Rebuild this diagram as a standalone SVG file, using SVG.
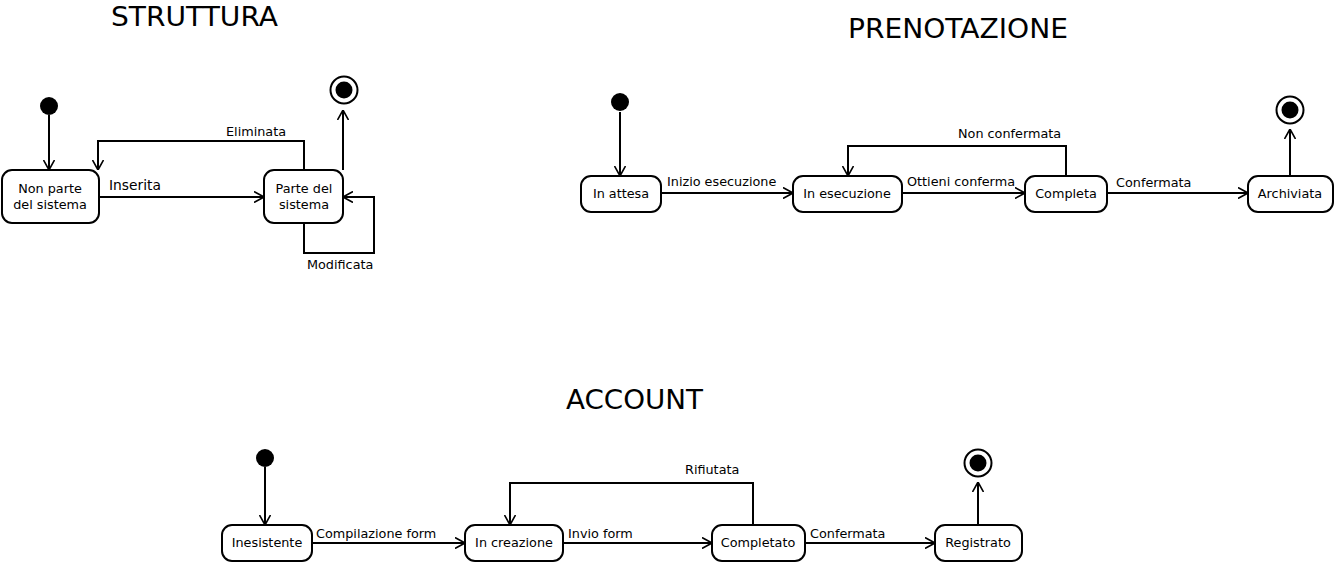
<svg xmlns="http://www.w3.org/2000/svg" width="1335" height="563" viewBox="0 0 1335 563">
<style>
.t{font-family:"DejaVu Sans","Liberation Sans",sans-serif;font-size:12.8px;fill:#000}
.c{text-anchor:middle}
.title{font-family:"DejaVu Sans","Liberation Sans",sans-serif;font-size:27px;fill:#000}
.st{fill:#fff;stroke:#000;stroke-width:2}
.e{fill:none;stroke:#000;stroke-width:2;marker-end:url(#a)}
.ini{fill:#000}
.fo{fill:#fff;stroke:#000;stroke-width:2}
</style>
<defs>
<marker id="a" viewBox="0 0 10 12" refX="10" refY="6" markerWidth="10" markerHeight="12" markerUnits="userSpaceOnUse" orient="auto">
<path d="M0,0.5 L10,6 L0,11.5" fill="none" stroke="#000" stroke-width="1.6"/>
</marker>
</defs>
<rect width="1335" height="563" fill="#fff"/>
<text class="title" x="111" y="26" textLength="167" lengthAdjust="spacingAndGlyphs">STRUTTURA</text>
<text class="title" x="848" y="38" textLength="220" lengthAdjust="spacingAndGlyphs">PRENOTAZIONE</text>
<text class="title" x="566" y="409" textLength="137" lengthAdjust="spacingAndGlyphs">ACCOUNT</text>

<g id="connectors">
<!-- STRUTTURA -->
<path class="e" d="M49,115 V170"/>
<path class="e" d="M99,197 H264"/>
<path class="e" d="M304,170 V141 H98 V170"/>
<path class="e" d="M304,223 V253 H374 V197 H343"/>
<path class="e" d="M343,170 V110"/>
<!-- PRENOTAZIONE -->
<path class="e" d="M620,112 V176"/>
<path class="e" d="M661,193 H793"/>
<path class="e" d="M902,193 H1025"/>
<path class="e" d="M1066,176 V146 H848 V176"/>
<path class="e" d="M1107,193 H1248"/>
<path class="e" d="M1290,176 V129"/>
<!-- ACCOUNT -->
<path class="e" d="M265,467 V525"/>
<path class="e" d="M312,543 H465"/>
<path class="e" d="M563,543 H712"/>
<path class="e" d="M753,525 V483 H510 V525"/>
<path class="e" d="M805,543 H935"/>
<path class="e" d="M978,525 V482"/>
<text class="t" x="226" y="136">Eliminata</text>
<text class="t" x="109" y="190" style="font-size:13.8px">Inserita</text>
<text class="t" x="307" y="269">Modificata</text>
<text class="t" x="667" y="186">Inizio esecuzione</text>
<text class="t" x="907" y="186">Ottieni conferma</text>
<text class="t" x="958" y="138">Non confermata</text>
<text class="t" x="1116" y="187">Confermata</text>
<text class="t" x="316" y="538">Compilazione form</text>
<text class="t" x="568" y="538">Invio form</text>
<text class="t" x="685" y="474">Rifiutata</text>
<text class="t" x="810" y="538">Confermata</text>
</g>

<!-- STRUTTURA nodes -->
<g id="s_init"><circle class="ini" cx="49" cy="106" r="9"/></g>
<g id="s_non"><rect class="st" x="2" y="170" width="97" height="53" rx="10"/>
<text class="t c" x="50" y="193">Non parte</text><text class="t c" x="50" y="209">del sistema</text></g>
<g id="s_parte"><rect class="st" x="264" y="170" width="79" height="53" rx="10"/>
<text class="t c" x="304" y="193">Parte del</text><text class="t c" x="304" y="209">sistema</text></g>
<g id="s_final"><circle class="fo" cx="344" cy="90" r="13.5"/><circle class="ini" cx="344" cy="90" r="8.5"/></g>

<!-- PRENOTAZIONE nodes -->
<g id="p_init"><circle class="ini" cx="620" cy="102" r="9"/></g>
<g id="p_attesa"><rect class="st" x="581" y="176" width="80" height="36" rx="10"/>
<text class="t c" x="621" y="198">In attesa</text></g>
<g id="p_esec"><rect class="st" x="793" y="176" width="109" height="36" rx="10"/>
<text class="t c" x="847" y="198">In esecuzione</text></g>
<g id="p_comp"><rect class="st" x="1025" y="176" width="82" height="36" rx="10"/>
<text class="t c" x="1066" y="198">Completa</text></g>
<g id="p_arch"><rect class="st" x="1248" y="176" width="85" height="36" rx="10"/>
<text class="t c" x="1290" y="198">Archiviata</text></g>
<g id="p_final"><circle class="fo" cx="1290" cy="110" r="13.5"/><circle class="ini" cx="1290" cy="110" r="8.5"/></g>

<!-- ACCOUNT nodes -->
<g id="a_init"><circle class="ini" cx="265" cy="458" r="9"/></g>
<g id="a_ines"><rect class="st" x="222" y="525" width="90" height="36" rx="10"/>
<text class="t c" x="267" y="547">Inesistente</text></g>
<g id="a_crea"><rect class="st" x="465" y="525" width="98" height="36" rx="10"/>
<text class="t c" x="514" y="547">In creazione</text></g>
<g id="a_compl"><rect class="st" x="712" y="525" width="93" height="36" rx="10"/>
<text class="t c" x="758" y="547">Completato</text></g>
<g id="a_reg"><rect class="st" x="935" y="525" width="87" height="36" rx="10"/>
<text class="t c" x="978" y="547">Registrato</text></g>
<g id="a_final"><circle class="fo" cx="978" cy="463" r="13.5"/><circle class="ini" cx="978" cy="463" r="8.5"/></g>
</svg>
